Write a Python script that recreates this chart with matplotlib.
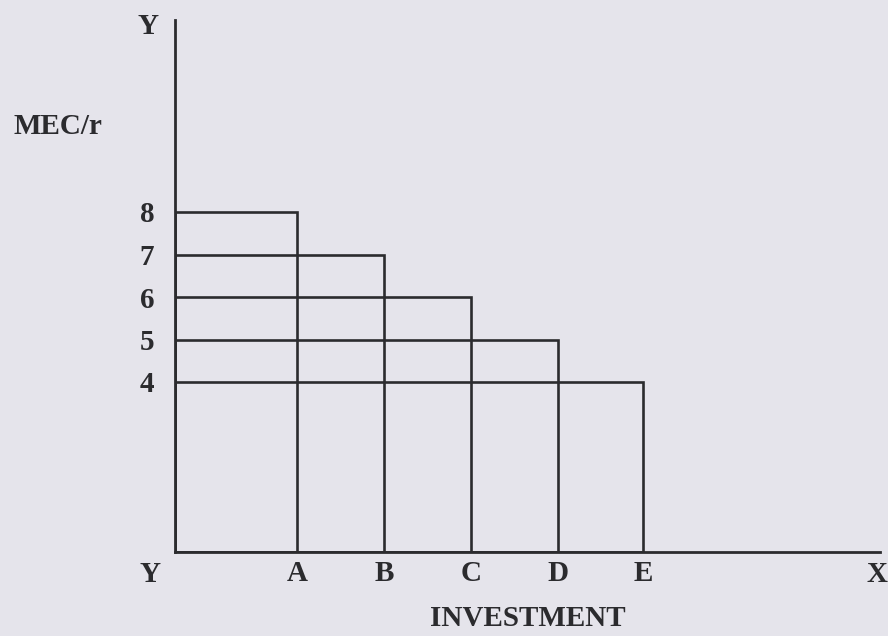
import matplotlib
matplotlib.use("Agg")
import matplotlib.pyplot as plt

# Investment levels (A..E) and their MEC/r values
projects = ['A', 'B', 'C', 'D', 'E']
investment = [1.4, 2.4, 3.4, 4.4, 5.38]
mec = [8, 7, 6, 5, 4]

bg = '#e5e4eb'
ink = '#2b2b2e'

W, H = 888, 636
fig = plt.figure(figsize=(W / 100, H / 100), dpi=100, facecolor=bg)

# origin of the diagram at pixel (175, 552), axis tops at y=20 and x=880
x0, y0 = 175, 552
ax = fig.add_axes([x0 / W, (H - y0) / H, (880 - x0) / W, (y0 - 20) / H])
ax.set_facecolor(bg)
ax.set_xlim(0, (880 - x0) / 87.0)
ax.set_ylim(0, (y0 - 20) / 42.5)

# stacked rectangles: each investment level outlined up to its MEC/r
ax.bar(0, mec, width=investment, align='edge', fill=False,
       edgecolor=ink, linewidth=1.9)

for side in ['top', 'right']:
    ax.spines[side].set_visible(False)
for side in ['left', 'bottom']:
    ax.spines[side].set_color(ink)
    ax.spines[side].set_linewidth(2.0)

font = dict(family='Liberation Serif', size=21, color=ink, weight='bold')

ax.set_yticks(mec)
ax.set_yticklabels([str(v) for v in mec], fontdict=font)
ax.set_xticks(investment)
ax.set_xticklabels(projects, fontdict=font)
ax.tick_params(axis='y', length=0, pad=15)
ax.tick_params(axis='x', length=0, pad=6)

# axis letters and titles
fig.text(148 / W, 1 - 27 / H, 'Y', ha='center', va='center', **font)
fig.text(58 / W, 1 - 127 / H, 'MEC/r', ha='center', va='center', **font)
fig.text(150 / W, 1 - 574 / H, 'Y', ha='center', va='center', **font)
fig.text(877 / W, 1 - 574 / H, 'X', ha='center', va='center', **font)
fig.text(528 / W, 1 - 619 / H, 'INVESTMENT', ha='center', va='center', **font)

fig.savefig('out.png', dpi=100, facecolor=bg)
